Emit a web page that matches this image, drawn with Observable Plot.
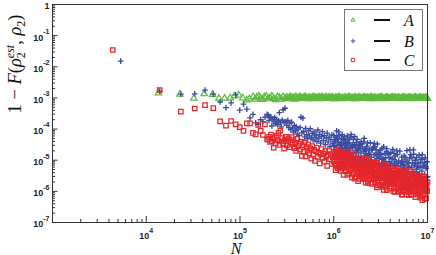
<!DOCTYPE html>
<html><head><meta charset="utf-8">
<script src="https://cdn.jsdelivr.net/npm/d3@7"></script>
<script src="https://cdn.jsdelivr.net/npm/@observablehq/plot@0.6"></script>
<style>body{margin:0;background:#fff}svg{display:block}</style>
</head><body><div id="chart"></div>
<script>
// ---- data (log10 of N and of 1 - F) ----
const logNA = [4.13,4.358,4.508,4.618,4.708,4.775,4.836,4.896,4.939,4.986,5.029,5.072,5.10,
5.14,5.16,5.18,5.20,5.22,5.24,5.26,5.28,5.30,5.32,5.34,5.36,5.38,5.40,5.42,5.44,5.46,5.48,5.50,5.52,5.54,5.56,5.58,5.60,5.62,5.64,5.66,5.68,5.70,5.72,5.74,5.76,5.78,5.80,5.82,5.84,5.86,5.88,5.90,5.92,5.94,5.96,5.98,6.00,
6.02,6.04,6.06,6.08,6.10,6.12,6.14,6.16,6.18,6.20,6.22,6.24,6.26,6.28,6.30,6.32,6.34,6.36,6.38,6.40,6.42,6.44,6.46,6.48,6.50,6.52,6.54,6.56,6.58,6.60,6.62,6.64,6.66,6.68,6.70,6.72,6.74,6.76,6.78,6.80,6.82,6.84,6.86,6.88,6.90,6.92,6.94,6.96,6.98,7.00,
5.51,5.53,5.55,5.57,5.59,5.61,5.63,5.65,5.67,5.69,5.71,5.73,5.75,5.77,5.79,5.81,5.83,5.85,5.87,5.89,5.91,5.93,5.95,5.97,5.99,
6.01,6.03,6.05,6.07,6.09,6.11,6.13,6.15,6.17,6.19,6.21,6.23,6.25,6.27,6.29,6.31,6.33,6.35,6.37,6.39,6.41,6.43,6.45,6.47,6.49,
6.51,6.53,6.55,6.57,6.59,6.61,6.63,6.65,6.67,6.69,6.71,6.73,6.75,6.77,6.79,6.81,6.83,6.85,6.87,6.89,6.91,6.93,6.95,6.97,6.99];
const logErrA = [-2.84,-2.88,-3.01,-2.87,-2.89,-3.02,-3.01,-3.00,-2.94,-2.91,-3.00,-3.07,-3.03,
-2.96,-3.04,-2.98,-2.94,-3.01,-3.05,-2.97,-2.95,-3.03,-2.99,-2.94,-3.02,-3.06,-2.97,-2.99,-3.04,-2.96,-3.01,-2.98,-3.03,-2.97,-3.00,-3.04,-2.98,-3.01,-2.96,-3.02,-3.00,-2.97,-3.03,-2.99,-3.01,-2.97,-3.02,-3.00,-2.98,-3.03,-2.99,-3.01,-2.97,-3.02,-3.00,-2.98,-3.03,
-2.99,-3.02,-2.98,-3.01,-3.03,-2.99,-3.00,-2.97,-3.02,-3.01,-2.98,-3.03,-3.00,-2.99,-3.02,-2.98,-3.01,-3.00,-3.03,-2.98,-3.01,-2.99,-3.02,-3.00,-2.98,-3.01,-3.03,-2.99,-3.00,-3.02,-2.98,-3.01,-2.99,-3.02,-3.00,-3.01,-2.98,-3.02,-3.00,-2.99,-3.01,-3.03,-2.99,-3.00,-3.02,-2.98,-3.01,-3.00,-2.99,-3.02,
-3.01,-2.98,-3.02,-3.00,-2.97,-3.03,-2.99,-3.01,-3.00,-2.98,-3.02,-2.99,-3.01,-3.03,-2.98,-3.00,-3.02,-2.99,-2.97,-3.01,-3.00,-3.02,-2.98,-3.01,-2.99,
-3.03,-3.00,-2.98,-3.02,-3.01,-2.99,-3.00,-3.02,-2.98,-3.01,-3.03,-2.99,-3.00,-2.98,-3.02,-3.01,-2.99,-3.00,-3.02,-2.98,-3.01,-2.99,-3.03,-3.00,-3.01,
-2.98,-3.02,-3.00,-2.99,-3.01,-3.02,-2.98,-3.00,-3.01,-2.99,-3.03,-3.00,-2.98,-3.01,-3.02,-2.99,-3.00,-3.01,-2.98,-3.02,-3.00,-2.99,-3.01,-3.02,-3.00];

const logNBC = [3.643,3.727,4.143,4.369,4.517,4.627,4.715,4.788,4.85,4.905,4.954,4.997,5.037,5.073,5.107,5.138,5.167,5.194,5.22,5.244,5.267,5.289,
5.30,5.31,5.32,5.33,5.34,5.35,5.36,5.37,5.38,5.39,5.40,5.41,5.42,5.43,5.44,5.45,5.46,5.47,5.48,5.49,5.50,5.51,5.52,5.53,5.54,5.55,5.56,5.57,5.58,5.59,
5.60,5.61,5.62,5.63,5.64,5.65,5.66,5.67,5.68,5.69,5.70,5.71,5.72,5.73,5.74,5.75,5.76,5.77,5.78,5.79,5.80,5.81,5.82,5.83,5.84,5.85,5.86,5.87,5.88,5.89,5.90,5.91,5.92,5.93,5.94,5.95,5.96,5.97,5.98,5.99,
6.000,6.005,6.010,6.015,6.020,6.025,6.030,6.035,6.040,6.045,6.050,6.055,6.060,6.065,6.070,6.075,6.080,6.085,6.090,6.095,
6.100,6.105,6.110,6.115,6.120,6.125,6.130,6.135,6.140,6.145,6.150,6.155,6.160,6.165,6.170,6.175,6.180,6.185,6.190,6.195,
6.200,6.205,6.210,6.215,6.220,6.225,6.230,6.235,6.240,6.245,6.250,6.255,6.260,6.265,6.270,6.275,6.280,6.285,6.290,6.295,
6.300,6.305,6.310,6.315,6.320,6.325,6.330,6.335,6.340,6.345,6.350,6.355,6.360,6.365,6.370,6.375,6.380,6.385,6.390,6.395,
6.400,6.405,6.410,6.415,6.420,6.425,6.430,6.435,6.440,6.445,6.450,6.455,6.460,6.465,6.470,6.475,6.480,6.485,6.490,6.495,
6.500,6.505,6.510,6.515,6.520,6.525,6.530,6.535,6.540,6.545,6.550,6.555,6.560,6.565,6.570,6.575,6.580,6.585,6.590,6.595,
6.600,6.605,6.610,6.615,6.620,6.625,6.630,6.635,6.640,6.645,6.650,6.655,6.660,6.665,6.670,6.675,6.680,6.685,6.690,6.695,
6.700,6.705,6.710,6.715,6.720,6.725,6.730,6.735,6.740,6.745,6.750,6.755,6.760,6.765,6.770,6.775,6.780,6.785,6.790,6.795,
6.800,6.805,6.810,6.815,6.820,6.825,6.830,6.835,6.840,6.845,6.850,6.855,6.860,6.865,6.870,6.875,6.880,6.885,6.890,6.895,
6.900,6.905,6.910,6.915,6.920,6.925,6.930,6.935,6.940,6.945,6.950,6.955,6.960,6.965,6.970,6.975,6.980,6.985,6.990,6.995,
7.000,
6.0025,6.0125,6.0225,6.0325,6.0425,6.0525,6.0625,6.0725,6.0825,6.0925,6.1025,6.1125,6.1225,6.1325,6.1425,6.1525,6.1625,6.1725,6.1825,6.1925,
6.2025,6.2125,6.2225,6.2325,6.2425,6.2525,6.2625,6.2725,6.2825,6.2925,6.3025,6.3125,6.3225,6.3325,6.3425,6.3525,6.3625,6.3725,6.3825,6.3925,
6.4025,6.4125,6.4225,6.4325,6.4425,6.4525,6.4625,6.4725,6.4825,6.4925,6.5025,6.5125,6.5225,6.5325,6.5425,6.5525,6.5625,6.5725,6.5825,6.5925,
6.6025,6.6125,6.6225,6.6325,6.6425,6.6525,6.6625,6.6725,6.6825,6.6925,6.7025,6.7125,6.7225,6.7325,6.7425,6.7525,6.7625,6.7725,6.7825,6.7925,
6.8025,6.8125,6.8225,6.8325,6.8425,6.8525,6.8625,6.8725,6.8825,6.8925,6.9025,6.9125,6.9225,6.9325,6.9425,6.9525,6.9625,6.9725,6.9825,6.9925];
const logErrB = [null,-1.82,-2.78,-2.88,-2.87,-2.75,-2.88,-3.13,-3.31,-3.16,-2.90,-3.39,-3.20,-3.36,-3.64,-3.53,-3.80,-3.85,-3.70,-3.76,-3.62,-3.53,
-3.55,-3.72,-3.64,-3.61,-3.90,-3.68,-3.77,-3.63,-3.82,-3.70,
-3.86,-3.74,-3.47,-3.79,-3.93,-3.71,-3.38,-3.80,-3.33,-3.76,
-3.88,-3.72,-3.95,-3.81,-4.02,-3.78,-3.97,-4.10,-3.89,-4.05,
-3.92,-4.16,-4.00,-4.21,-3.95,-3.62,-4.12,-3.65,-4.08,-4.25,
-3.98,-4.18,-4.31,-4.06,-4.22,-3.99,-4.28,-4.14,-4.35,-4.09,
-4.26,-4.19,-4.40,-4.03,-4.30,-4.17,-4.45,-4.24,-4.08,-4.37,
-4.21,-4.50,-4.29,-4.13,-4.41,-4.26,-4.56,-4.34,-4.19,-4.47,
-4.20,-4.55,-4.42,-4.82,-4.33,-4.69,-4.06,-4.53,-4.31,-4.78,
-4.42,-4.97,-4.21,-4.66,-4.51,-4.92,-4.31,-4.61,-4.18,-4.79,
-4.73,-4.44,-4.88,-4.30,-4.59,-4.38,-5.02,-4.52,-4.71,-4.22,
-4.83,-4.45,-4.67,-4.33,-4.99,-4.60,-4.79,-4.17,-4.94,-4.55,
-4.60,-4.92,-4.34,-4.76,-4.51,-5.10,-4.58,-4.89,-4.44,-4.75,
-4.33,-5.06,-4.67,-4.88,-4.53,-5.24,-4.63,-4.99,-4.77,-4.47,
-4.94,-4.58,-5.29,-4.71,-5.13,-4.30,-4.87,-4.66,-5.24,-4.80,
-4.56,-5.09,-4.45,-5.43,-4.78,-4.99,-4.66,-5.27,-4.44,-5.11,
-4.91,-5.41,-4.67,-5.10,-4.61,-5.23,-4.83,-5.55,-4.57,-5.02,
-4.81,-5.38,-4.94,-4.48,-5.23,-4.74,-5.53,-4.94,-5.34,-4.68,
-5.18,-4.82,-5.51,-4.62,-5.15,-4.94,-5.43,-5.04,-5.72,-4.78,
-5.30,-4.92,-5.54,-4.63,-5.16,-5.41,-4.77,-5.30,-5.05,-5.69,
-4.92,-5.27,-4.75,-5.54,-5.10,-5.41,-4.65,-5.65,-5.19,-4.98,
-5.38,-4.87,-5.77,-5.05,-5.51,-5.18,-4.82,-5.61,-5.10,-5.34,
-5.59,-4.71,-5.45,-5.18,-5.77,-4.90,-5.31,-5.04,-5.91,-5.13,
-4.86,-5.53,-5.26,-5.72,-4.99,-5.41,-4.69,-5.61,-5.19,-5.36,
-5.09,-5.88,-4.93,-5.46,-4.82,-5.60,-5.22,-5.74,-5.08,-5.36,
-4.67,-5.85,-5.16,-5.55,-5.00,-5.73,-5.29,-4.91,-5.49,-5.96,
-5.09,-5.45,-4.84,-5.70,-5.24,-5.84,-4.97,-5.57,-5.35,-4.82,
-5.65,-5.20,-5.79,-5.08,-5.46,-4.92,-5.95,-5.26,-5.65,-5.05,
-5.53,
-4.53,-4.35,-4.86,-4.25,-4.78,-4.09,-4.49,-4.86,-4.44,-4.61,-4.35,-4.24,-4.53,-4.73,-4.46,-4.63,-4.44,-4.83,-4.27,-5.06,
-4.50,-4.90,-4.24,-5.02,-4.70,-4.63,-5.21,-4.50,-5.14,-4.40,-5.11,-5.19,-4.41,-4.67,-5.40,-4.64,-4.86,-5.11,-4.81,-5.01,
-4.67,-5.09,-4.57,-4.46,-5.39,-4.67,-5.62,-4.87,-5.10,-4.81,-5.18,-4.97,-5.58,-4.57,-5.04,-5.15,-4.72,-5.42,-4.81,-5.64,
-5.16,-5.55,-4.95,-5.75,-4.78,-5.16,-5.61,-4.70,-5.54,-5.02,-5.41,-5.54,-5.07,-5.44,-5.17,-5.32,-4.91,-5.86,-5.06,-5.66,
-5.24,-4.67,-5.53,-4.92,-5.40,-4.81,-5.50,-5.07,-5.38,-5.20,-5.60,-5.47,-5.08,-5.58,-4.97,-5.78,-5.16,-5.70,-5.21,-5.55];
const logErrC = [-1.46,null,-2.75,-3.44,-3.34,-3.23,-3.33,-3.75,-3.89,-3.74,-3.85,-3.94,-4.06,-3.82,-3.82,-4.12,-4.17,-3.87,-4.06,-4.19,-3.85,-4.33,
-4.33,-4.25,-4.41,-4.18,-4.39,-4.30,-4.60,-4.27,-4.45,-4.22,
-4.36,-4.12,-4.51,-4.05,-4.40,-4.29,-4.47,-4.63,-4.34,-4.25,
-4.52,-4.38,-4.30,-4.58,-4.42,-4.26,-4.49,-4.35,-4.61,-4.44,
-4.70,-4.31,-4.55,-4.47,-4.66,-4.40,-4.86,-4.52,-4.73,-4.44,
-4.88,-4.58,-4.69,-4.49,-4.78,-4.62,-4.95,-4.55,-4.83,-4.67,
-5.02,-4.72,-4.60,-4.89,-4.76,-5.10,-4.81,-4.64,-4.93,-4.79,
-5.05,-4.71,-4.88,-5.18,-4.84,-4.68,-4.97,-4.80,-5.12,-4.90,
-5.02,-4.73,-5.11,-4.87,-5.32,-4.67,-5.02,-4.79,-5.25,-4.88,
-5.18,-4.66,-5.00,-5.15,-4.78,-5.34,-4.97,-5.27,-4.73,-5.13,
-4.90,-5.47,-5.17,-4.81,-5.07,-5.35,-4.90,-5.25,-5.01,-5.46,
-4.72,-5.17,-5.00,-5.42,-5.10,-5.35,-4.86,-5.28,-4.95,-5.56,
-5.07,-5.25,-5.14,-5.42,-4.84,-5.30,-5.04,-5.52,-5.23,-5.41,
-4.98,-5.16,-5.67,-5.12,-5.30,-5.04,-5.60,-5.24,-5.42,-4.95,
-5.52,-5.37,-5.21,-5.57,-5.03,-5.28,-5.52,-5.21,-5.72,-5.09,
-5.46,-5.19,-5.34,-5.67,-4.97,-5.52,-5.30,-5.62,-5.07,-5.44,
-5.20,-5.76,-5.31,-5.50,-5.13,-5.59,-5.43,-5.06,-5.71,-5.29,
-5.56,-5.21,-5.87,-5.41,-5.69,-5.36,-5.52,-5.16,-5.78,-5.31,
-5.57,-5.23,-5.71,-5.43,-5.86,-5.32,-5.66,-5.15,-5.48,-5.80,
-5.41,-5.56,-5.26,-5.96,-5.46,-5.75,-5.32,-5.68,-5.39,-5.91,
-5.57,-5.72,-5.26,-5.85,-5.43,-5.68,-5.53,-6.00,-5.32,-5.78,
-5.41,-5.59,-5.91,-5.52,-5.67,-5.28,-5.87,-5.59,-6.00,-5.51,
-5.77,-5.40,-5.67,-5.87,-5.57,-6.11,-5.50,-5.81,-5.64,-6.00,
-5.37,-5.74,-5.48,-5.89,-5.62,-6.10,-5.59,-5.82,-5.46,-5.98,
-5.71,-5.67,-6.02,-5.36,-5.91,-5.75,-6.10,-5.53,-5.83,-5.66,
-6.00,-5.47,-5.91,-5.75,-6.19,-5.64,-5.84,-5.59,-6.11,-5.73,
-5.99,-6.06,-5.53,-5.91,-5.66,-6.20,-5.85,-5.99,-5.60,-6.28,
-5.81,-6.13,-5.73,-5.93,-5.53,-6.09,-5.78,-6.22,-5.88,-6.00,
-5.70,
-5.04,-4.84,-5.17,-4.84,-5.25,-4.75,-5.15,-4.85,-5.12,-5.22,-4.98,-5.11,-4.93,-5.22,-4.80,-5.19,-4.90,-5.31,-4.77,-5.15,
-5.43,-5.07,-5.59,-4.99,-5.27,-5.19,-5.37,-5.15,-5.46,-5.39,-5.14,-5.52,-4.94,-5.60,-5.29,-5.04,-5.73,-5.19,-5.62,-5.36,
-5.72,-5.15,-5.60,-5.13,-5.45,-5.39,-5.08,-5.81,-5.40,-5.56,-5.32,-5.55,-5.40,-5.95,-5.30,-5.83,-5.19,-5.29,-5.67,-5.40,
-5.65,-5.53,-5.76,-5.60,-5.46,-6.02,-5.52,-5.36,-5.92,-5.89,-5.33,-6.01,-5.46,-6.11,-5.62,-5.70,-6.00,-5.34,-5.94,-5.61,
-6.12,-5.45,-5.95,-5.62,-5.81,-5.68,-5.94,-5.78,-5.54,-5.65,-5.89,-5.76,-6.15,-5.84,-5.51,-6.13,-5.69,-6.24,-5.81,-5.98];

const seriesNames = ["A", "B", "C"];
const seriesColors = ["#5cba3f", "#3a4a9f", "#e5262b"];
const xTickValues = [1e4, 1e5, 1e6, 1e7];
const yTickValues = [1, 1e-1, 1e-2, 1e-3, 1e-4, 1e-5, 1e-6, 1e-7];

// ---- build tables ----
function table(logN, logE) {
  const out = [];
  logN.forEach((n, i) => {
    const e = logE[i];
    if (e == null) return;
    out.push({N: 10 ** n, err: 10 ** e});
  });
  return out;
}
const dataA = table(logNA, logErrA);
const dataB = table(logNBC, logErrB);
const dataC = table(logNBC, logErrC);

const W = 436, H = 255, mL = 52, mR = 9, mT = 4, mB = 33;
const plotW = W - mL - mR, plotH = H - mT - mB;
const axisColor = "#333";

const xMinor = [], yMinor = [];
for (let d = 3; d <= 6; d++) for (let m = 2; m <= 9; m++) xMinor.push(m * 10 ** d);
for (let d = -7; d <= -1; d++) for (let m = 2; m <= 9; m++) yMinor.push(m * 10 ** d);
const xMajorAll = [1e3, ...xTickValues];

const fmt = d => {
  const e = Math.round(Math.log10(d));
  return e === 0 ? "1" : "10^" + e;
};

const svg = Plot.plot({
  width: W, height: H,
  marginLeft: mL, marginRight: mR, marginTop: mT, marginBottom: mB,
  style: {fontFamily: "'Liberation Sans', Arial, sans-serif", fontSize: "9px", fontWeight: "bold", color: "#222", background: "#fff"},
  x: {type: "log", domain: [1e3, 1e7]},
  y: {type: "log", domain: [1e-7, 1]},
  marks: [
    Plot.tickY(yMinor, {y: d => d, insetRight: plotW - 3, stroke: axisColor}),
    Plot.tickY(yTickValues, {y: d => d, insetRight: plotW - 5.5, stroke: axisColor}),
    Plot.tickX(xMinor, {x: d => d, insetTop: plotH - 3, stroke: axisColor}),
    Plot.tickX(xMajorAll, {x: d => d, insetTop: plotH - 6, stroke: axisColor}),
    Plot.axisY(yTickValues, {tickSize: 0, tickPadding: 3, dy: 2, tickFormat: fmt, label: null}),
    Plot.axisX(xTickValues, {tickSize: 0, tickPadding: 10, tickFormat: fmt, label: null}),
    Plot.dot(dataA, {x: "N", y: "err", symbol: "triangle", r: 2.4, stroke: seriesColors[0], strokeWidth: 1.2}),
    Plot.dot(dataB, {x: "N", y: "err", symbol: "plus", r: 2.0, stroke: seriesColors[1], strokeWidth: 1.35}),
    Plot.dot(dataC, {x: "N", y: "err", symbol: "square", r: 2.5, stroke: seriesColors[2], strokeWidth: 1.25}),
    Plot.frame({stroke: axisColor, strokeWidth: 1})
  ]
});

// superscript exponents on tick labels
const NS = "http://www.w3.org/2000/svg";
svg.querySelectorAll('[aria-label="y-axis tick label"] text, [aria-label="x-axis tick label"] text').forEach(t => {
  const s = t.textContent;
  if (!s.includes("^")) return;
  const isY = t.parentNode.getAttribute("aria-label").startsWith("y");
  const [b, e] = s.split("^");
  t.textContent = "";
  const t1 = document.createElementNS(NS, "tspan"); t1.textContent = b; t.appendChild(t1);
  const t2 = document.createElementNS(NS, "tspan");
  t2.setAttribute("dy", isY ? "-6.5" : "-6"); t2.setAttribute("font-size", "7"); t2.textContent = e;
  t.appendChild(t2);
});

const root = d3.select(svg);
const serif = "'Liberation Serif', 'DejaVu Serif', serif";

// axis titles
const yl = root.append("text")
  .attr("transform", "translate(21,64) rotate(-90)")
  .attr("text-anchor", "middle").attr("font-family", serif)
  .attr("font-size", 18.5).attr("font-weight", "normal").attr("fill", "#111");
const parts = [
  {t: "1 \u2212 "}, {t: "F", i: 1}, {t: "("}, {t: "\u03C1", i: 1},
  {t: "2", s: 1, dy: 4}, {t: "est", s: 1, i: 1, dx: -6, dy: -11.5},
  {t: ", ", dy: 7.5}, {t: "\u03C1", i: 1}, {t: "2", s: 1, dy: 4}, {t: ")", dy: -4}
];
parts.forEach(p => {
  const ts = yl.append("tspan").text(p.t);
  if (p.i) ts.attr("font-style", "italic");
  if (p.s) ts.attr("font-size", 12);
  if (p.dx) ts.attr("dx", p.dx);
  if (p.dy) ts.attr("dy", p.dy);
});
root.append("text").attr("x", 236).attr("y", 253.5).attr("text-anchor", "middle")
  .attr("font-family", serif).attr("font-style", "italic").attr("font-weight", "normal")
  .attr("font-size", 16).attr("fill", "#111").text("N");

// legend
const lg = root.append("g");
lg.append("rect").attr("x", 344.5).attr("y", 9.5).attr("width", 78).attr("height", 61)
  .attr("fill", "#fff").attr("stroke", "#777");
const syms = [d3.symbolTriangle2 || d3.symbolTriangle, d3.symbolPlus || d3.symbolCross, d3.symbolSquare2 || d3.symbolSquare];
const symSizes = [11, 8, 15];
const legY = [20, 41, 60];
seriesNames.forEach((name, i) => {
  const y = legY[i];
  lg.append("path").attr("transform", `translate(353,${y})`)
    .attr("d", d3.symbol(syms[i], symSizes[i])()).attr("fill", "none")
    .attr("stroke", seriesColors[i]).attr("stroke-width", 1);
  lg.append("line").attr("x1", 374).attr("x2", 390).attr("y1", y).attr("y2", y)
    .attr("stroke", "#111").attr("stroke-width", 2);
  lg.append("text").attr("x", 409).attr("y", y + 5.5).attr("text-anchor", "middle")
    .attr("font-family", serif).attr("font-style", "italic").attr("font-weight", "normal")
    .attr("font-size", 16).attr("fill", "#111").text(name);
});

document.getElementById("chart").appendChild(svg);
</script>
</body></html>
